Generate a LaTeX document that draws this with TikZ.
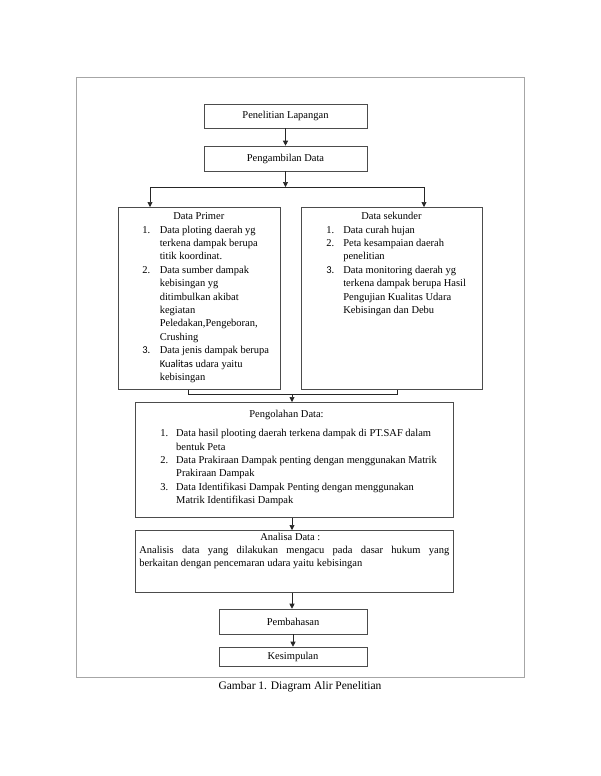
\documentclass[tikz,border=0pt]{standalone}
\usepackage{fontspec}
\setmainfont{Liberation Serif}
\newfontfamily\calibrifont{Carlito}
\usepackage{tikz}
\usetikzlibrary{arrows.meta}
\newcommand{\widthstep}{163pt}
\newcommand{\widthend}{148pt}
\newcommand{\boxfont}{\fontsize{10.5}{13.4}\selectfont}
\tikzset{
    common/.style={draw=black!70, line width=0.6pt, rectangle, inner sep=0pt, font=\boxfont},
    stepbox/.style={common, minimum width=\widthstep, minimum height=24pt},
    endbox/.style={common, minimum width=\widthend, minimum height=25pt},
    listbox/.style={common, anchor=north west},
    flow/.style={-{Triangle[length=5pt, width=5pt]}, line width=0.6pt, black!85},
    link/.style={line width=0.6pt, black!85},
    frame/.style={draw=black!35, line width=0.8pt}
}

\begin{document}
\begin{tikzpicture}[x=1pt, y=-1pt]
    \useasboundingbox[fill=white] (0,0) rectangle (600,776);
    \draw[frame] (76,77) rectangle (524,677);

    \path
        node[stepbox] (lapangan) at (285.5,116) {Penelitian Lapangan}
        node[stepbox, minimum height=25pt] (pengambilan) at (285.5,158.5) {Pengambilan Data};
    \path
        node[listbox] (primer) at (118,207) {\parbox[c][182pt][t]{162pt}{\vspace*{3pt}%
            \begin{tabular}[t]{@{\hspace{24pt}}l@{\hspace{9.5pt}}l@{}}
            \multicolumn{2}{@{\hspace{55pt}}l@{}}{Data Primer}\\
            1. & Data ploting daerah yg\\
               & terkena dampak berupa\\
               & titik koordinat.\\
            2. & Data sumber dampak\\
               & kebisingan yg\\
               & ditimbulkan akibat\\
               & kegiatan\\
               & Peledakan,Pengeboran,\\
               & Crushing\\
            {\calibrifont 3.} & Data jenis dampak berupa\\
               & {\calibrifont Kualitas} udara yaitu\\
               & kebisingan
            \end{tabular}}}
        node[listbox] (sekunder) at (301,207) {\parbox[c][182pt][t]{181pt}{\vspace*{3pt}%
            \begin{tabular}[t]{@{\hspace{25pt}}l@{\hspace{9pt}}l@{}}
            \multicolumn{2}{@{\hspace{60pt}}l@{}}{Data sekunder}\\
            1. & Data curah hujan\\
            2. & Peta kesampaian daerah\\
               & penelitian\\
            {\calibrifont 3.} & Data monitoring daerah yg\\
               & terkena dampak berupa Hasil\\
               & Pengujian Kualitas Udara\\
               & Kebisingan dan Debu
            \end{tabular}}};
    \path
        node[listbox] (pengolahan) at (135,402) {\parbox[c][115pt][t]{318pt}{\vspace*{6pt}%
            \begin{tabular}[t]{@{\hspace{25pt}}l@{\hspace{8pt}}l@{}}
            \multicolumn{2}{@{\hspace{114pt}}l@{}}{Pengolahan Data:}\\[5.6pt]
            1. & Data hasil plooting daerah terkena dampak di PT.SAF dalam\\
               & bentuk Peta\\
            2. & Data Prakiraan Dampak penting dengan menggunakan Matrik\\
               & Prakiraan Dampak\\
            3. & Data Identifikasi Dampak Penting dengan menggunakan\\
               & Matrik Identifikasi Dampak
            \end{tabular}}}
        node[listbox] (analisa) at (135,530) {\parbox[c][62pt][t]{318pt}{\vspace*{2.5pt}%
            \hspace*{125pt}Analisa Data :\par
            {\leftskip=4pt \rightskip=4pt Analisis data yang dilakukan mengacu pada dasar hukum yang\linebreak
            berkaitan dengan pencemaran udara yaitu kebisingan\par}}};
    \path
        node[endbox] (pembahasan) at (293,621.5) {Pembahasan}
        node[endbox, minimum height=19pt] (kesimpulan) at (293,656.5) {Kesimpulan};
    \node[font=\fontsize{11.5}{14}\selectfont] (caption) at (300,687) {Gambar 1. Diagram Alir Penelitian};

    \coordinate (forkL) at (150,187);
    \coordinate (forkR) at (424,187);
    \coordinate (mergeL) at (188,394);
    \coordinate (mergeR) at (397,394);
    \coordinate (merge) at (292,394);

    \draw[flow] (lapangan) -- (pengambilan);
    \draw[flow] (pengambilan) -- (pengambilan |- forkL);
    \draw[link] (forkL) -- (forkR);
    \draw[flow] (forkL) -- (forkL |- primer.north);
    \draw[flow] (forkR) -- (forkR |- sekunder.north);
    \draw[link] (mergeL |- primer.south) |- (mergeR) -- (mergeR |- sekunder.south);
    \draw[flow] (merge) -- (merge |- pengolahan.north);
    \draw[flow] (pengolahan.south -| merge) -- (analisa.north -| merge);
    \draw[flow] (analisa.south -| merge) -- (pembahasan.north -| merge);
    \draw[flow] (pembahasan) -- (kesimpulan);
\end{tikzpicture}
\end{document}
